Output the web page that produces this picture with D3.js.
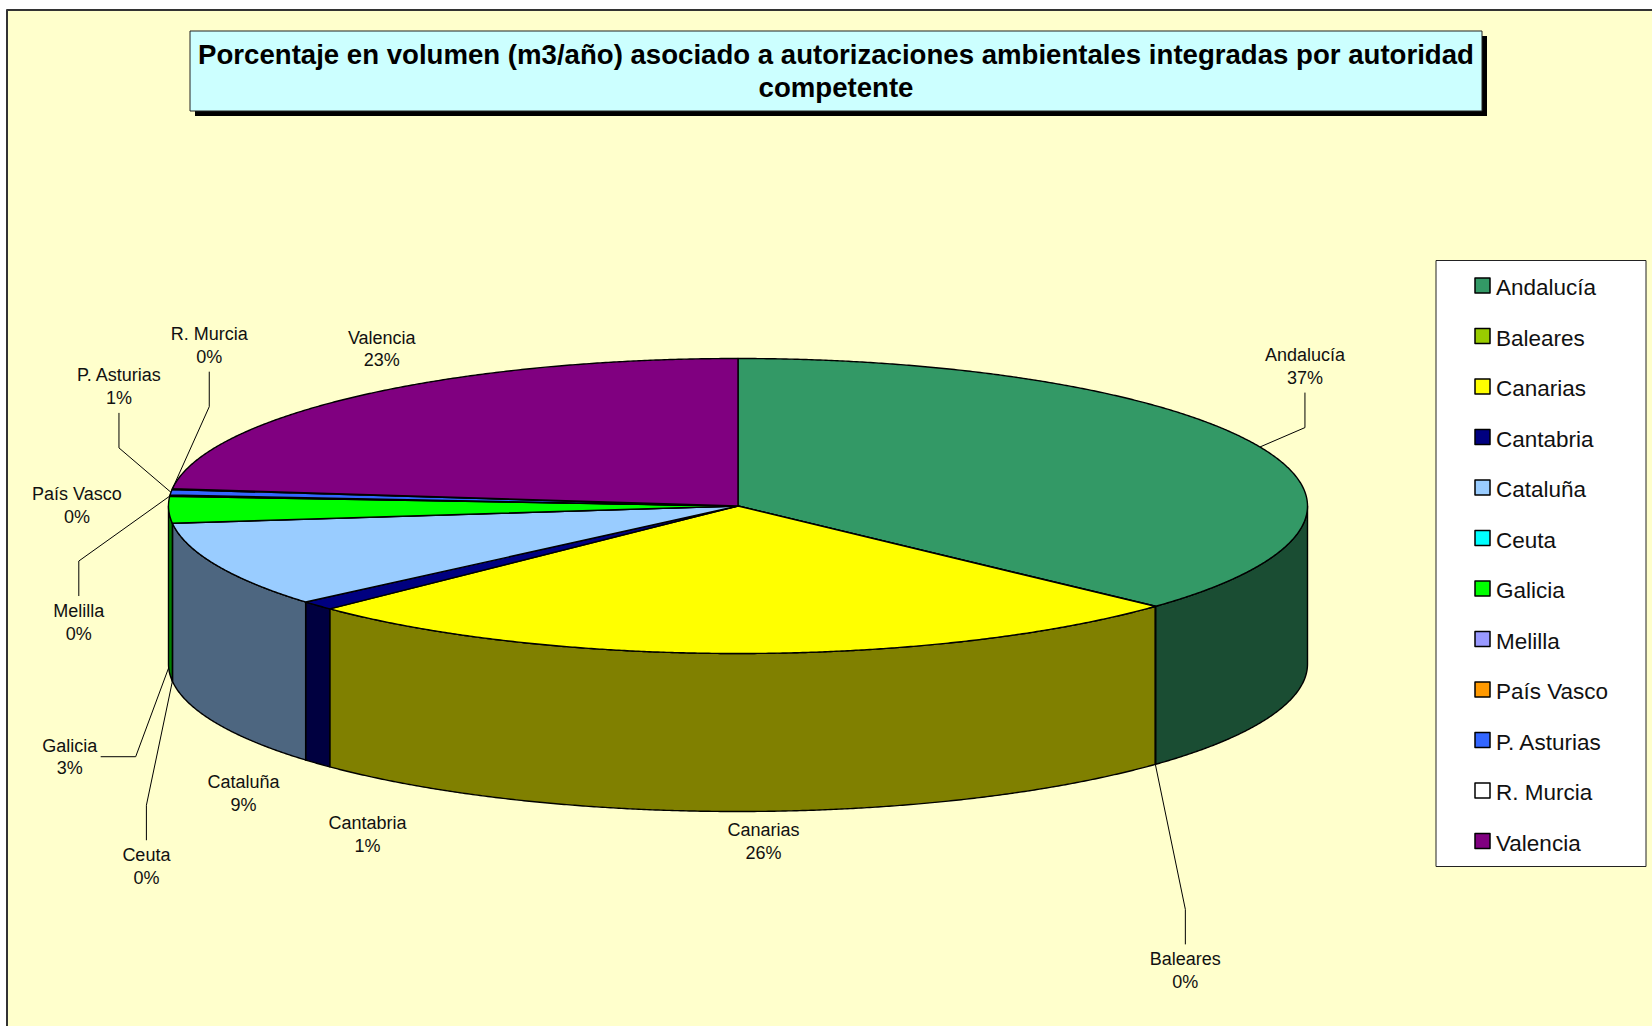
<!DOCTYPE html>
<html>
<head>
<meta charset="utf-8">
<script src="https://cdn.jsdelivr.net/npm/d3@7"></script>
<style>
  html, body { margin: 0; padding: 0; background: #fff; overflow: hidden; }
  svg { display: block; font-family: "Liberation Sans", Arial, sans-serif; }
</style>
</head>
<body>
<div id="chart"></div>
<script>
// data
const TITLE_LINES = [
  'Porcentaje en volumen (m3/año) asociado a autorizaciones ambientales integradas por autoridad',
  'competente',
];
const REGIONS = ['Andalucía', 'Baleares', 'Canarias', 'Cantabria', 'Cataluña', 'Ceuta',
  'Galicia', 'Melilla', 'País Vasco', 'P. Asturias', 'R. Murcia', 'Valencia'];
const VOLUME_PCT = [36.9, 0.02, 25.8, 1.0, 9.4, 0.03, 2.9, 0.05, 0.08, 0.6, 0.1, 23.12];
const REGION_COLORS = ['#339966', '#99cc00', '#ffff00', '#000080', '#99ccff', '#00ffff',
  '#00ff00', '#9999ff', '#ff9900', '#3366ff', '#ffffff', '#800080'];

// label placement, relative to the rim point at the middle of each slice
const LABEL_OFFSETS = [[45, -86], [30, 201], [19, 25], [50, 66], [27, 65], [-26, 180],
  [-99, 84], [-91, 121], [-93, 5], [-52, -111], [37, -149], [22, -52]];
const LEADERS = ['v', 'v', null, null, null, 'v', 'h', 'v', null, 'v', 'v', null];

const W = 1652;
const H = 1026;
const pie3d = {
  cx: 738, cy: 506, rx: 569.5, ry: 147.5, depth: 158,
};

const svg = d3.select('#chart')
  .append('svg')
  .attr('width', W)
  .attr('height', H)
  .attr('stroke-linejoin', 'round');

// chart area
svg.append('rect')
  .attr('x', 7)
  .attr('y', 10)
  .attr('width', W + 20)
  .attr('height', H + 20)
  .attr('fill', '#ffffcc')
  .attr('stroke', '#333')
  .attr('stroke-width', 2);

// title box with shadow
svg.append('rect')
  .attr('x', 195).attr('y', 36)
  .attr('width', 1292).attr('height', 80)
  .attr('fill', '#000');
svg.append('rect')
  .attr('x', 190).attr('y', 31)
  .attr('width', 1292).attr('height', 80)
  .attr('fill', '#ccffff')
  .attr('stroke', '#222')
  .attr('stroke-width', 1);
svg.append('g')
  .selectAll('text')
  .data(TITLE_LINES)
  .join('text')
  .attr('x', 836)
  .attr('y', (d, i) => 64 + i * 33)
  .attr('text-anchor', 'middle')
  .style('font-size', '27.6px')
  .style('font-weight', 'bold')
  .text((d) => d);

// pie
const color = d3.scaleOrdinal().domain(REGIONS).range(REGION_COLORS);
const half = (c) => {
  const rgb = d3.rgb(c);
  return d3.rgb(rgb.r * 0.5, rgb.g * 0.5, rgb.b * 0.5).formatHex();
};

const slices = d3.pie()
  .sort(null)
  .value((d) => d.value)(REGIONS.map((name, i) => ({ name, value: VOLUME_PCT[i] })));

const rim = (a, dy = 0) => [
  pie3d.cx + pie3d.rx * Math.sin(a),
  pie3d.cy - pie3d.ry * Math.cos(a) + dy,
];
const arcPoints = (a0, a1, dy = 0) => {
  const n = Math.max(2, Math.ceil(Math.abs(a1 - a0) / 0.005));
  return d3.range(n + 1).map((k) => rim(a0 + ((a1 - a0) * k) / n, dy));
};
const line = d3.line();

const wallPath = (d) => {
  const a0 = Math.max(d.startAngle, Math.PI / 2);
  const a1 = Math.min(d.endAngle, 1.5 * Math.PI);
  if (a1 <= a0) return null;
  const pts = arcPoints(a0, a1).concat(arcPoints(a1, a0, pie3d.depth));
  return `${line(pts)}Z`;
};
const topPath = (d) => {
  const pts = [[pie3d.cx, pie3d.cy]].concat(arcPoints(d.startAngle, d.endAngle));
  return `${line(pts)}Z`;
};

const gPie = svg.append('g').attr('class', 'pie');

gPie.append('g')
  .attr('class', 'walls')
  .selectAll('path')
  .data(slices.filter((d) => wallPath(d) !== null))
  .join('path')
  .attr('fill', (d) => half(color(d.data.name)))
  .attr('stroke', '#000')
  .attr('stroke-width', 1.4)
  .attr('d', wallPath);

gPie.append('g')
  .attr('class', 'tops')
  .selectAll('path')
  .data(slices)
  .join('path')
  .attr('fill', (d) => color(d.data.name))
  .attr('stroke', '#000')
  .attr('stroke-width', 1.4)
  .attr('d', topPath);

// labels
const pct = d3.format('.0%');
const total = d3.sum(VOLUME_PCT);
const labelData = slices.map((d, i) => {
  const mid = (d.startAngle + d.endAngle) / 2;
  const front = Math.cos(mid) < 0;
  const [ax, ay] = rim(mid, front ? pie3d.depth : 0);
  return {
    name: d.data.name,
    text: pct(d.data.value / total),
    ax,
    ay,
    x: ax + LABEL_OFFSETS[i][0],
    y: ay + LABEL_OFFSETS[i][1],
    leader: LEADERS[i],
  };
});

const gLabels = svg.append('g')
  .attr('class', 'labels')
  .style('font-size', '18px')
  .attr('fill', '#111');

const labels = gLabels.selectAll('text')
  .data(labelData)
  .join('text')
  .attr('text-anchor', 'middle');
labels.append('tspan')
  .attr('x', (d) => d.x)
  .attr('y', (d) => d.y)
  .text((d) => d.name);
labels.append('tspan')
  .attr('x', (d) => d.x)
  .attr('y', (d) => d.y + 22.6)
  .text((d) => d.text);

labels.each(function (d) {
  d.halfWidth = this.getBBox().width / 2;
});

const leaderPoints = (d) => {
  if (d.leader === 'h') {
    const sx = d.x + d.halfWidth + 3;
    return [[sx, d.y + 5], [sx + 35, d.y + 5], [d.ax, d.ay]];
  }
  if (d.y < d.ay) {
    return [[d.x, d.y + 31.6], [d.x, d.y + 66.6], [d.ax, d.ay]];
  }
  return [[d.x, d.y - 21], [d.x, d.y - 56], [d.ax, d.ay]];
};

gLabels.append('g')
  .attr('class', 'leaders')
  .selectAll('path')
  .data(labelData.filter((d) => d.leader))
  .join('path')
  .attr('fill', 'none')
  .attr('stroke', '#000')
  .attr('stroke-width', 1)
  .attr('d', (d) => line(leaderPoints(d)));

// legend
const legend = svg.append('g').attr('class', 'legend');
legend.append('rect')
  .attr('x', 1436).attr('y', 260.5)
  .attr('width', 210).attr('height', 606)
  .attr('fill', '#fff')
  .attr('stroke', '#222')
  .attr('stroke-width', 1);

const items = legend.selectAll('g.item')
  .data(REGIONS)
  .join('g')
  .attr('class', 'item')
  .attr('transform', (d, i) => `translate(0,${295 + i * 50.5})`);
items.append('rect')
  .attr('x', 1475).attr('y', -17)
  .attr('width', 15).attr('height', 15)
  .attr('fill', (d) => color(d))
  .attr('stroke', '#000')
  .attr('stroke-width', 1.5);
items.append('text')
  .attr('x', 1496)
  .attr('y', 0)
  .style('font-size', '22.5px')
  .attr('fill', '#111')
  .text((d) => d);
</script>
</body>
</html>
